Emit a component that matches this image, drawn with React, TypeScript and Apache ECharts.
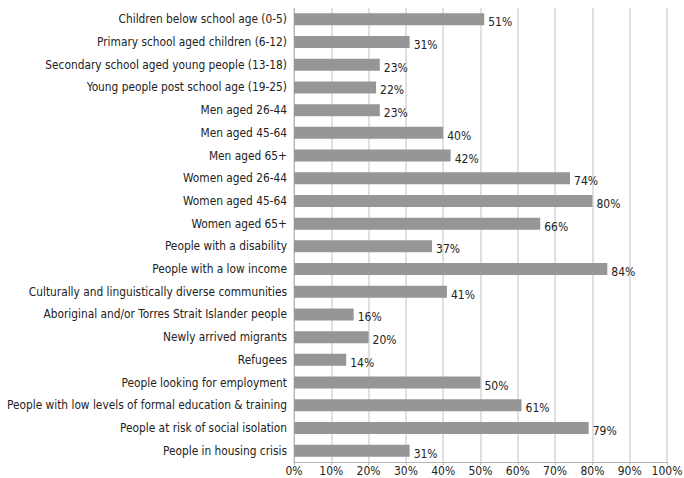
import React, { useEffect, useRef } from "react";
import * as echarts from "echarts";

const categories = [
  "Children below school age (0-5)",
  "Primary school aged children (6-12)",
  "Secondary school aged young people (13-18)",
  "Young people post school age (19-25)",
  "Men aged 26-44",
  "Men aged 45-64",
  "Men aged 65+",
  "Women aged 26-44",
  "Women aged 45-64",
  "Women aged 65+",
  "People with a disability",
  "People with a low income",
  "Culturally and linguistically diverse communities",
  "Aboriginal and/or Torres Strait Islander people",
  "Newly arrived migrants",
  "Refugees",
  "People looking for employment",
  "People with low levels of formal education & training",
  "People at risk of social isolation",
  "People in housing crisis",
];

const values = [51, 31, 23, 22, 23, 40, 42, 74, 80, 66, 37, 84, 41, 16, 20, 14, 50, 61, 79, 31];

const FONT = "'DejaVu Sans Condensed', sans-serif";

export default function App() {
  const ref = useRef<HTMLDivElement>(null);
  useEffect(() => {
    if (!ref.current) return;
    const chart = echarts.init(ref.current, null, { renderer: "svg" });
    chart.setOption({
      animation: false,
      grid: { left: 294, right: 17, top: 8, bottom: 16, containLabel: false, outerBoundsMode: "none" },
      xAxis: {
        type: "value",
        min: 0,
        max: 100,
        interval: 10,
        axisLabel: {
          formatter: "{value}%",
          color: "#222",
          fontFamily: FONT,
          fontSize: 12,
          lineHeight: 12,
          margin: 3,
        },
        axisLine: { show: true, lineStyle: { color: "#b5b5b5" } },
        axisTick: { show: true, length: 3, lineStyle: { color: "#b5b5b5" } },
        splitLine: { show: true, lineStyle: { color: "#d6d6d6", width: 1.5 } },
      },
      yAxis: {
        type: "category",
        data: categories,
        inverse: true,
        axisLabel: {
          color: "#222",
          fontFamily: FONT,
          fontSize: 11.8,
          margin: 7,
        },
        axisLine: { show: true, lineStyle: { color: "#b5b5b5" } },
        axisTick: { show: false },
      },
      series: [
        {
          type: "bar",
          data: values,
          barWidth: 12,
          itemStyle: { color: "#969696" },
          label: {
            show: true,
            position: "right",
            formatter: "{c}%",
            color: "#222",
            fontFamily: FONT,
            fontSize: 12,
            distance: 4,
            offset: [0, 3],
          },
        },
      ],
    });
    return () => chart.dispose();
  }, []);
  return <div ref={ref} style={{ width: 684, height: 478, position: "absolute", left: 0, top: 0 }} />;
}
